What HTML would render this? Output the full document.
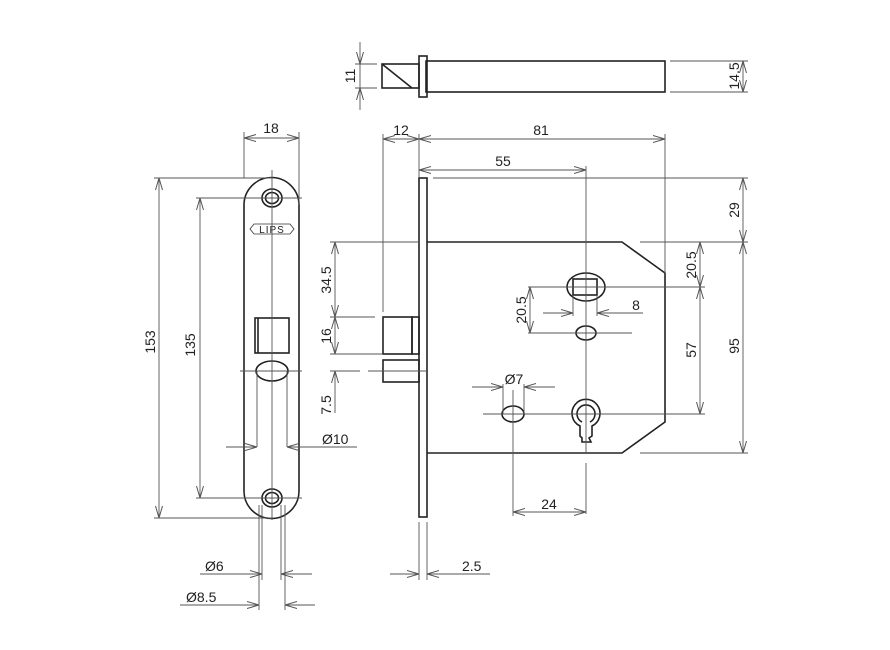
<!DOCTYPE html>
<html><head><meta charset="utf-8"><style>html,body{margin:0;padding:0;background:#fff}svg{display:block}text{font-family:"Liberation Sans",sans-serif;font-size:14px;fill:#222}</style></head>
<body>
<svg width="890" height="650" viewBox="0 0 890 650" xmlns="http://www.w3.org/2000/svg">
<defs>
<marker id="a" viewBox="0 0 12 8" refX="12" refY="4" markerWidth="12" markerHeight="8" orient="auto-start-reverse" markerUnits="userSpaceOnUse"><path d="M0,0.5 L12,4 L0,7.5" fill="none" stroke="#555" stroke-width="1"/></marker>
</defs>
<g fill="none" stroke="#222" stroke-width="1.6">
<rect x="426" y="61" width="239" height="31"/>
<rect x="419" y="56" width="8" height="41"/>
<rect x="382" y="64" width="37" height="24"/>
<line x1="382" y1="64" x2="412" y2="88"/>
<path d="M244,205 A27.5,27.5 0 0 1 299,205 L299,491 A27.5,27.5 0 0 1 244,491 Z"/>
<ellipse cx="272" cy="198" rx="10" ry="9"/><ellipse cx="272" cy="198" rx="6.5" ry="5.5"/>
<ellipse cx="272" cy="498" rx="10" ry="9"/><ellipse cx="272" cy="498" rx="6.5" ry="5.5"/>
<rect x="255" y="318" width="34" height="35"/>
<line x1="258" y1="318" x2="258" y2="353"/>
<ellipse cx="272" cy="371" rx="16" ry="10"/>
<rect x="419" y="178" width="8" height="339"/>
<path d="M427,242 L622,242 L665,273 L665,422 L622,453 L427,453"/>
<rect x="383" y="317" width="29" height="37"/>
<rect x="412" y="317" width="7" height="37"/>
<rect x="383" y="360" width="36" height="22"/>
<ellipse cx="586" cy="287" rx="19" ry="14"/>
<rect x="573" y="279" width="24" height="16"/>
<ellipse cx="586" cy="333" rx="10" ry="7"/>
<ellipse cx="513" cy="414" rx="11" ry="8"/>
<path d="M580,426 A14,14 0 1 1 592,426 L592,436 L589,438 L591,442 L582,442 L582,438 L580,436 Z"/>
<path d="M582,422 A9,9 0 1 1 590,422"/>
</g>
<path d="M250,229 L254,224 L290,224 L294,229 L290,234 L254,234 Z" fill="none" stroke="#333" stroke-width="0.8"/>
<text x="272" y="233" text-anchor="middle" style="font-size:10px;letter-spacing:1px">LIPS</text>
<g stroke="#555" stroke-width="0.9" fill="none">
<line x1="272" y1="170" x2="272" y2="520"/>
<line x1="586" y1="166" x2="586" y2="453"/><line x1="586" y1="463" x2="586" y2="514"/>
<line x1="244" y1="132" x2="244" y2="178"/><line x1="299" y1="132" x2="299" y2="205"/>
<line x1="244" y1="138" x2="299" y2="138" marker-start="url(#a)" marker-end="url(#a)"/>
<line x1="154" y1="178" x2="272" y2="178"/><line x1="154" y1="518" x2="272" y2="518"/>
<line x1="159" y1="178" x2="159" y2="518" marker-start="url(#a)" marker-end="url(#a)"/>
<line x1="196" y1="198" x2="302" y2="198"/><line x1="196" y1="498" x2="302" y2="498"/>
<line x1="200" y1="198" x2="200" y2="498" marker-start="url(#a)" marker-end="url(#a)"/>
<line x1="240" y1="371" x2="302" y2="371"/>
<line x1="257" y1="371" x2="257" y2="447"/><line x1="287" y1="371" x2="287" y2="447"/>
<line x1="226" y1="447" x2="257" y2="447" marker-end="url(#a)"/><line x1="357" y1="447" x2="287" y2="447" marker-end="url(#a)"/>
<line x1="259" y1="505" x2="259" y2="610"/><line x1="262" y1="505" x2="262" y2="580"/>
<line x1="281" y1="505" x2="281" y2="580"/><line x1="285" y1="505" x2="285" y2="610"/>
<line x1="200" y1="574" x2="262" y2="574" marker-end="url(#a)"/><line x1="312" y1="574" x2="281" y2="574" marker-end="url(#a)"/>
<line x1="180" y1="605" x2="259" y2="605" marker-end="url(#a)"/><line x1="315" y1="605" x2="285" y2="605" marker-end="url(#a)"/>
<line x1="419" y1="522" x2="419" y2="580"/><line x1="427" y1="522" x2="427" y2="580"/>
<line x1="390" y1="574" x2="419" y2="574" marker-end="url(#a)"/><line x1="490" y1="574" x2="427" y2="574" marker-end="url(#a)"/>
<line x1="360" y1="42" x2="360" y2="64" marker-end="url(#a)"/><line x1="360" y1="110" x2="360" y2="88" marker-end="url(#a)"/>
<line x1="360" y1="64" x2="360" y2="88"/>
<line x1="355" y1="64" x2="377" y2="64"/><line x1="355" y1="88" x2="377" y2="88"/>
<line x1="670" y1="61" x2="748" y2="61"/><line x1="670" y1="92" x2="748" y2="92"/>
<line x1="743" y1="61" x2="743" y2="92" marker-start="url(#a)" marker-end="url(#a)"/>
<line x1="383" y1="134" x2="383" y2="312"/><line x1="419" y1="134" x2="419" y2="178"/>
<line x1="665" y1="134" x2="665" y2="273"/>
<line x1="383" y1="139" x2="419" y2="139" marker-start="url(#a)" marker-end="url(#a)"/>
<line x1="419" y1="139" x2="665" y2="139" marker-start="url(#a)" marker-end="url(#a)"/>
<line x1="419" y1="170" x2="586" y2="170" marker-start="url(#a)" marker-end="url(#a)"/>
<line x1="433" y1="178" x2="748" y2="178"/>
<line x1="640" y1="242" x2="748" y2="242"/><line x1="640" y1="453" x2="748" y2="453"/>
<line x1="743" y1="178" x2="743" y2="242" marker-start="url(#a)" marker-end="url(#a)"/>
<line x1="743" y1="242" x2="743" y2="453" marker-start="url(#a)" marker-end="url(#a)"/>
<line x1="528" y1="287" x2="705" y2="287"/><line x1="483" y1="414" x2="705" y2="414"/>
<line x1="700" y1="242" x2="700" y2="287" marker-start="url(#a)" marker-end="url(#a)"/>
<line x1="700" y1="287" x2="700" y2="414" marker-start="url(#a)" marker-end="url(#a)"/>
<line x1="528" y1="333" x2="632" y2="333"/>
<line x1="530" y1="287" x2="530" y2="333" marker-start="url(#a)" marker-end="url(#a)"/>
<line x1="573" y1="295" x2="573" y2="316"/><line x1="597" y1="295" x2="597" y2="316"/>
<line x1="543" y1="313" x2="573" y2="313" marker-end="url(#a)"/><line x1="643" y1="313" x2="597" y2="313" marker-end="url(#a)"/>
<line x1="503" y1="384" x2="503" y2="414"/><line x1="524" y1="384" x2="524" y2="414"/>
<line x1="472" y1="387" x2="503" y2="387" marker-end="url(#a)"/><line x1="555" y1="387" x2="524" y2="387" marker-end="url(#a)"/>
<line x1="513" y1="390" x2="513" y2="516"/>
<line x1="513" y1="512" x2="586" y2="512" marker-start="url(#a)" marker-end="url(#a)"/>
<line x1="330" y1="242" x2="419" y2="242"/>
<line x1="330" y1="317" x2="375" y2="317"/><line x1="330" y1="354" x2="383" y2="354"/>
<line x1="330" y1="371" x2="360" y2="371"/><line x1="368" y1="371" x2="427" y2="371"/>
<line x1="335" y1="242" x2="335" y2="317" marker-start="url(#a)" marker-end="url(#a)"/>
<line x1="335" y1="317" x2="335" y2="354" marker-start="url(#a)" marker-end="url(#a)"/>
<line x1="335" y1="413" x2="335" y2="371" marker-end="url(#a)"/>
</g>
<text x="271" y="133" text-anchor="middle">18</text>
<text transform="translate(155,342) rotate(-90)" text-anchor="middle">153</text>
<text transform="translate(195,345) rotate(-90)" text-anchor="middle">135</text>
<text x="322" y="444">Ø10</text>
<text x="205" y="571">Ø6</text>
<text x="186" y="602">Ø8.5</text>
<text x="462" y="571">2.5</text>
<text transform="translate(355,76) rotate(-90)" text-anchor="middle">11</text>
<text transform="translate(739,76) rotate(-90)" text-anchor="middle">14.5</text>
<text x="401" y="135" text-anchor="middle">12</text>
<text x="541" y="135" text-anchor="middle">81</text>
<text x="503" y="166" text-anchor="middle">55</text>
<text transform="translate(739,210) rotate(-90)" text-anchor="middle">29</text>
<text transform="translate(739,346) rotate(-90)" text-anchor="middle">95</text>
<text transform="translate(696,265) rotate(-90)" text-anchor="middle">20.5</text>
<text transform="translate(696,350) rotate(-90)" text-anchor="middle">57</text>
<text transform="translate(526,310) rotate(-90)" text-anchor="middle">20.5</text>
<text x="636" y="310" text-anchor="middle">8</text>
<text x="514" y="384" text-anchor="middle">Ø7</text>
<text x="549" y="509" text-anchor="middle">24</text>
<text transform="translate(331,280) rotate(-90)" text-anchor="middle">34.5</text>
<text transform="translate(331,336) rotate(-90)" text-anchor="middle">16</text>
<text transform="translate(331,405) rotate(-90)" text-anchor="middle">7.5</text>
</svg>
</body></html>
